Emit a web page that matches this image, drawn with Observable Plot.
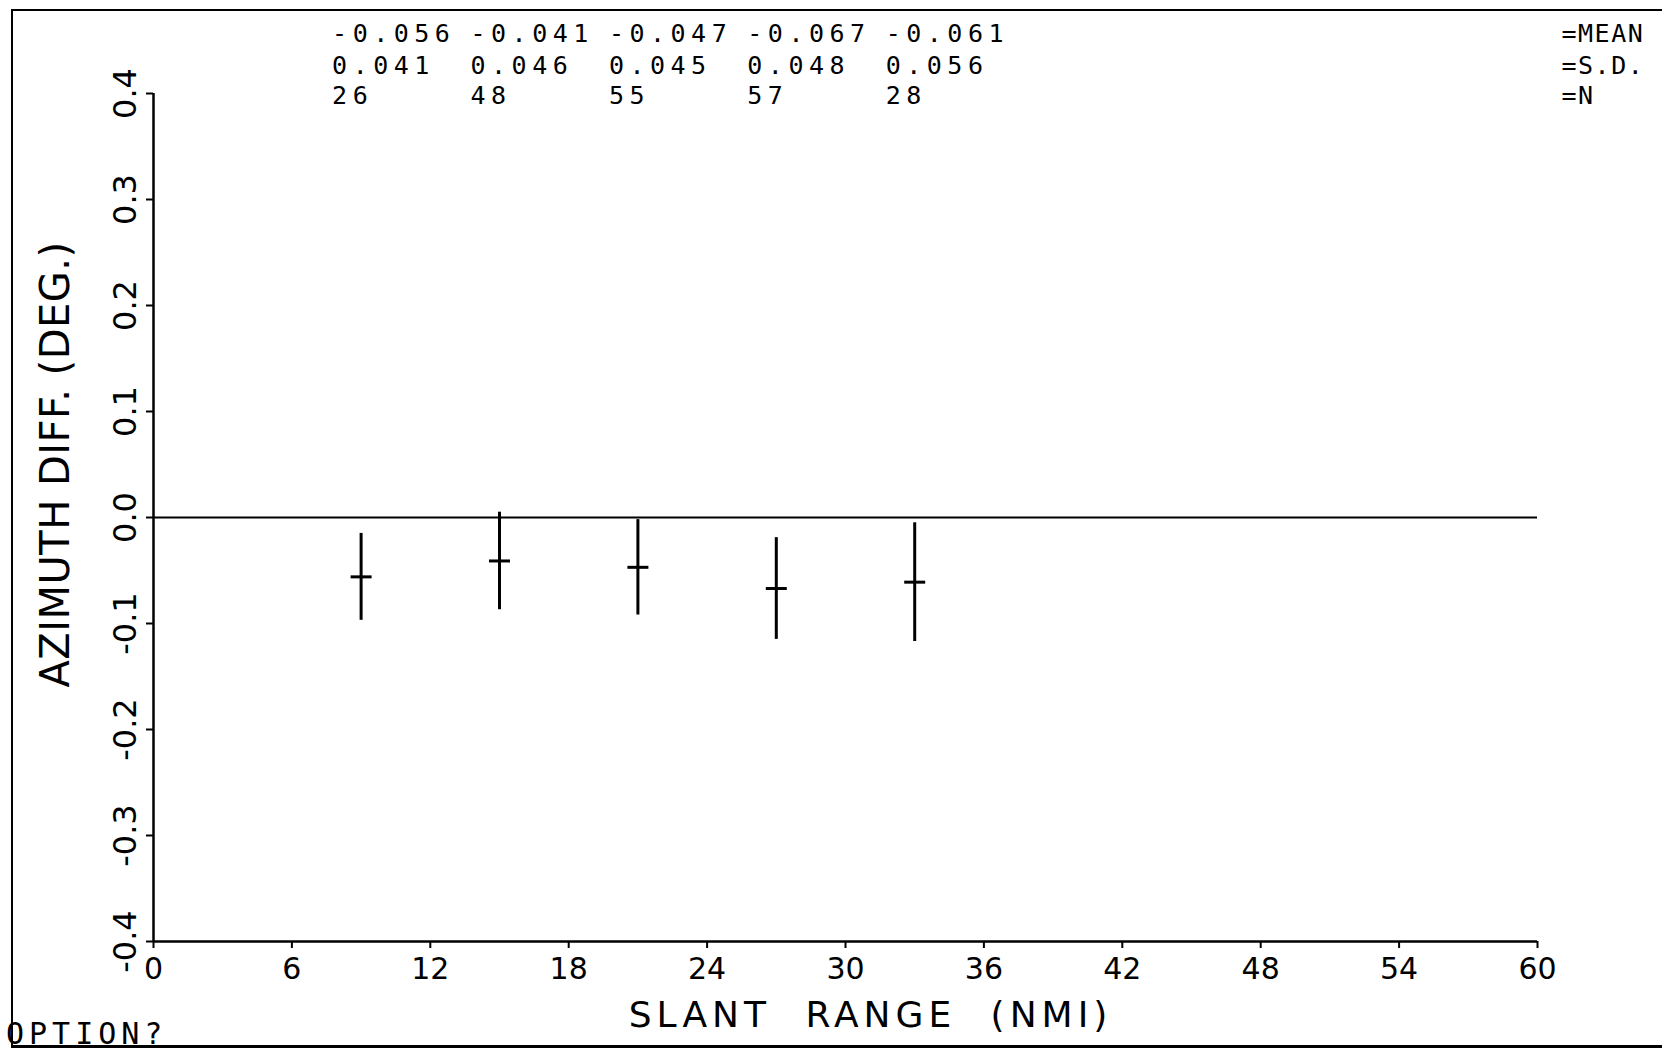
<!DOCTYPE html>
<html>
<head>
<meta charset="utf-8">
<script src="https://cdn.jsdelivr.net/npm/d3@7"></script>
<script src="https://cdn.jsdelivr.net/npm/@observablehq/plot@0.6"></script>
<style>
  html, body { margin: 0; padding: 0; background: #fff; }
  #wrap { position: relative; width: 1662px; height: 1050px; overflow: hidden; background: #fff; }
  #border { position: absolute; left: 11px; top: 9px; width: 1651px; height: 1039px; box-sizing: border-box;
            border-left: 2.5px solid #000; border-top: 2.5px solid #000; border-bottom: 3px solid #000; pointer-events: none; }
  #prompt { position: absolute; left: 6px; top: 1019px; font-family: "DejaVu Sans Mono", monospace; font-size: 30px;
            letter-spacing: 5px; line-height: 1; color: #000; }
</style>
</head>
<body>
<div id="wrap">
  <div id="chart"></div>
  <div id="border"></div>
  <div id="prompt">OPTION?</div>
</div>
<script>
// Data
const rangeBins = [9, 15, 21, 27, 33];          // slant range bin centres (NMI)
const means     = [-0.056, -0.041, -0.047, -0.067, -0.061];
const sds       = [0.041, 0.046, 0.045, 0.048, 0.056];
const counts    = [26, 48, 55, 57, 28];
const xTicks      = [0, 6, 12, 18, 24, 30, 36, 42, 48, 54, 60];
const xTickLabels = ["0", "6", "12", "18", "24", "30", "36", "42", "48", "54", "60"];
const yTicks      = [-0.4, -0.3, -0.2, -0.1, 0.0, 0.1, 0.2, 0.3, 0.4];
const yTickLabels = ["-0.4", "-0.3", "-0.2", "-0.1", "0.0", "0.1", "0.2", "0.3", "0.4"];
const legendLabels = ["=MEAN", "=S.D.", "=N"];
const xTitle = "SLANT RANGE (NMI)";
const yTitle = "AZIMUTH DIFF. (DEG.)";

const rows = rangeBins.map((r, i) => ({range: r, mean: means[i], sd: sds[i], n: counts[i]}));

const hbar = {
  draw(context, size) {
    const r = Math.sqrt(size / Math.PI);
    context.moveTo(-r, 0);
    context.lineTo(r, 0);
  }
};

const rowDy = [-60, -28, 2];
const statText = [
  d => d.mean.toFixed(3),
  d => d.sd.toFixed(3),
  d => String(d.n)
];
const MONO = "DejaVu Sans Mono";
const LEG_FONT = "DejaVu Sans Mono, monospace";
const XT_FONT = "DejaVu Sans, sans-serif";
const YT_FONT = "DejaVu Sans, serif";

const marks = [
  Plot.ruleX([0], {strokeWidth: 2.5}),
  Plot.ruleY([-0.4], {strokeWidth: 2.5}),
  Plot.ruleY([0], {strokeWidth: 2}),
  Plot.axisX({ticks: xTicks, tickSize: 7, tickPadding: 9, strokeWidth: 2,
              tickFormat: d => xTickLabels[xTicks.indexOf(d)], fontSize: 30, label: null}),
  Plot.axisY({ticks: yTicks, tickSize: 7, strokeWidth: 2, tickFormat: () => "", label: null}),
  Plot.text(yTicks, {y: d => d, text: d => yTickLabels[yTicks.indexOf(d)], frameAnchor: "left",
                     rotate: -90, dx: -28, textAnchor: "middle", lineAnchor: "middle", fontSize: 32}),
  Plot.text([yTitle], {frameAnchor: "left", rotate: -90, dx: -97, dy: -53, fontSize: 40,
                       textAnchor: "middle", lineAnchor: "middle", fontFamily: YT_FONT}),
  Plot.text([xTitle], {frameAnchor: "bottom", dx: 25, dy: 74, fontSize: 36, textAnchor: "middle",
                       lineAnchor: "middle", fontFamily: XT_FONT}),
  Plot.ruleX(rows, {x: "range", y1: d => d.mean - d.sd, y2: d => d.mean + d.sd, strokeWidth: 3}),
  Plot.dot(rows, {x: "range", y: "mean", symbol: hbar, r: 10.5, stroke: "black", fill: "none", strokeWidth: 3})
];

rowDy.forEach((dy, k) => {
  marks.push(Plot.text(rows, {x: "range", text: statText[k], frameAnchor: "top", textAnchor: "start",
    lineAnchor: "middle", dx: -29, dy, fontSize: 25, fontFamily: MONO}));
  marks.push(Plot.text([legendLabels[k]], {frameAnchor: "top-right", textAnchor: "start",
    lineAnchor: "middle", dx: 24, dy, fontSize: 25, fontFamily: LEG_FONT}));
});

const chart = Plot.plot({
  width: 1662,
  height: 1050,
  marginLeft: 153,
  marginRight: 125,
  marginTop: 93,
  marginBottom: 109,
  style: {fontFamily: "DejaVu Sans", color: "#000", background: "#fff", overflow: "visible"},
  x: {domain: [0, 60]},
  y: {domain: [-0.4, 0.4]},
  marks
});
document.getElementById("chart").appendChild(chart);

// plotter-style letter spacing
const svg = d3.select(chart);
const byFont = f => svg.selectAll("g").filter(function() { return this.getAttribute("font-family") === f; }).selectAll("text");
byFont(MONO).style("letter-spacing", "5.5px");
byFont(LEG_FONT).style("letter-spacing", "1.5px");
byFont(XT_FONT).style("letter-spacing", "5px").style("word-spacing", "18px");
byFont(YT_FONT).style("letter-spacing", "0.5px");
</script>
</body>
</html>
